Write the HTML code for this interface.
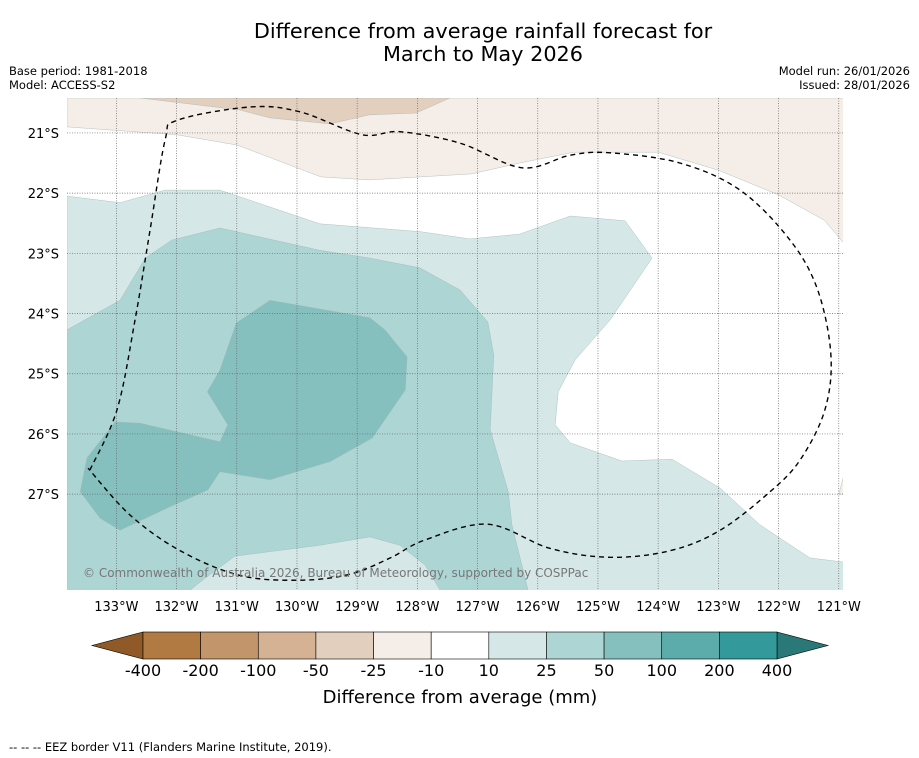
<!DOCTYPE html>
<html><head><meta charset="utf-8"><style>
body{margin:0;background:#fff;font-family:"Liberation Sans","DejaVu Sans",sans-serif}
svg{display:block}
</style></head><body>
<svg width="919" height="758" viewBox="0 0 919 758" font-family="DejaVu Sans, Liberation Sans, sans-serif">
<rect width="919" height="758" fill="#fff"/>
<text x="483" y="38" text-anchor="middle" font-size="20.8">Difference from average rainfall forecast for</text>
<text x="483" y="61" text-anchor="middle" font-size="20.8">March to May 2026</text>
<text x="9" y="75" font-size="11.5">Base period: 1981-2018</text>
<text x="9" y="89" font-size="11.5">Model: ACCESS-S2</text>
<text x="910" y="75" font-size="11.5" text-anchor="end">Model run: 26/01/2026</text>
<text x="910" y="89" font-size="11.5" text-anchor="end">Issued: 28/01/2026</text>
<g id="map"></g>
<g id="cbar"></g>
<text x="460" y="703" text-anchor="middle" font-size="18">Difference from average (mm)</text>
<text x="9" y="751" font-size="11.5">--  --  -- EEZ border V11 (Flanders Marine Institute, 2019).</text>
</svg>
<script>
const lonTicks=[133,132,131,130,129,128,127,126,125,124,123,122,121];
const latTicks=[21,22,23,24,25,26,27];
const cbLevels=["-400","-200","-100","-50","-25","-10","10","25","50","100","200","400"];
const cbColors=["#b07a42","#c2956b","#d4b293","#e3cfbe","#f5ede7","#ffffff","#d5e8e7","#acd5d4","#85c0bf","#5bacab","#33999a"];
const tanLight=[[133.82,20.42],[133.82,20.9],[132,21.03],[131,21.2],[129.6,21.73],[128.8,21.78],[127.1,21.68],[126.3,21.5],[125.4,21.32],[124,21.32],[123,21.62],[122,22.03],[121.24,22.45],[120.92,22.83],[120.92,20.42]];
const tanDark=[[132.6,20.42],[130.95,20.62],[130.45,20.75],[129.45,20.85],[128.8,20.7],[128.02,20.67],[127.46,20.42]];
const tanSmall=[[121,27.0],[120.92,26.7],[120.92,27.0]];
const teal1=[[133.82,22.05],[132.94,22.16],[132.19,21.95],[131.28,21.95],[129.62,22.51],[127.96,22.64],[127.13,22.76],[126.3,22.68],[125.46,22.38],[124.55,22.46],[124.1,23.08],[124.8,24.11],[125.38,24.77],[125.66,25.3],[125.71,25.85],[125.46,26.15],[124.6,26.45],[123.77,26.42],[122.97,26.9],[122.31,27.51],[121.48,28.06],[120.92,28.13],[120.92,28.6],[133.82,28.6]];
const teal2=[[133.82,24.27],[132.94,23.78],[132.52,23.08],[132.08,22.78],[131.28,22.58],[129.62,22.95],[128.79,23.08],[127.96,23.24],[127.29,23.61],[126.83,24.14],[126.73,24.69],[126.79,25.93],[126.49,26.96],[126.43,27.51],[126.16,28.6],[127.62,28.6],[127.87,28.18],[128.29,27.85],[128.79,27.71],[129.62,27.85],[131.03,28.03],[131.53,28.4],[131.78,28.6],[133.82,28.6]];
const teal3=[[130.45,23.78],[128.79,24.07],[128.54,24.27],[128.17,24.72],[128.2,25.27],[128.75,26.07],[129.45,26.46],[130.45,26.76],[131.28,26.63],[131.48,26.93],[132.11,27.21],[132.94,27.6],[133.27,27.4],[133.6,26.96],[133.49,26.4],[133.02,25.8],[132.61,25.82],[131.28,26.13],[131.15,25.85],[131.49,25.3],[131.28,24.94],[131.01,24.16]];
const eez=[[133.44,26.6],[132.99,25.6],[132.69,24.11],[132.44,22.61],[132.19,21.12],[131.99,20.79],[130.78,20.57],[129.95,20.65],[128.92,21.03],[128.29,20.98],[127.29,21.17],[126.26,21.58],[125.46,21.37],[124.8,21.33],[123.64,21.5],[122.64,21.95],[121.81,22.78],[121.35,23.61],[121.13,24.69],[121.23,25.6],[121.64,26.43],[122.14,26.96],[122.97,27.6],[123.8,27.94],[124.8,28.05],[125.8,27.9],[126.83,27.5],[127.87,27.76],[128.45,28.06],[129.12,28.33],[129.95,28.43],[130.95,28.35],[131.94,27.94],[132.77,27.35],[133.47,26.57]];
const NS='http://www.w3.org/2000/svg';
const X0=67,X1=843,Y0=98,Y1=590,LON0=133.82,LAT0=20.42,PPD=60.2;
const sx=lon=>X0+(LON0-lon)*PPD;
const sy=lat=>Y0+(lat-LAT0)*PPD;
const map=document.getElementById('map');
function mk(t,a,p){const e=document.createElementNS(NS,t);for(const k in a)e.setAttribute(k,a[k]);(p||map).appendChild(e);return e;}
const defs=mk('defs',{});const cp=mk('clipPath',{id:'clip'},defs);mk('rect',{x:X0,y:Y0,width:X1-X0,height:Y1-Y0},cp);
const g=mk('g',{'clip-path':'url(#clip)'});
mk('rect',{x:X0,y:Y0,width:X1-X0,height:Y1-Y0,fill:'#fff'},g);
function poly(pts,fill,name){const e=mk('polygon',{points:pts.map(p=>sx(p[0]).toFixed(1)+','+sy(p[1]).toFixed(1)).join(' '),fill:fill,stroke:'#9fb8b8','stroke-width':0.4},g);

}
poly(tanLight,'#f5ede7','contour-minus10');
poly(tanDark,'#e3cfbe','contour-minus25');
poly(tanSmall,'#f5ede7','contour-minus10-small');
poly(teal1,'#d5e8e7','contour-10-25');
poly(teal2,'#acd5d4','contour-25-50');
poly(teal3,'#85c0bf','contour-50-100');
lonTicks.forEach(l=>{const x=sx(l);const ln=mk('line',{x1:x,x2:x,y1:Y0,y2:Y1,stroke:'#666','stroke-width':0.7,'stroke-dasharray':'1,1.5'},g);


const t=mk('text',{x:x,y:611,'text-anchor':'middle','font-size':13});t.textContent=l+'°W';

});
latTicks.forEach(l=>{const y=sy(l);const ln=mk('line',{x1:X0,x2:X1,y1:y,y2:y,stroke:'#666','stroke-width':0.7,'stroke-dasharray':'1,1.5'},g);


const t=mk('text',{x:59,y:y+5,'text-anchor':'end','font-size':13});t.textContent=l+'°S';

});
// smooth EEZ path (Catmull-Rom)
const P=eez.map(p=>[sx(p[0]),sy(p[1])]);
let d='M'+P[0][0].toFixed(1)+','+P[0][1].toFixed(1);
for(let i=0;i<P.length-1;i++){const p0=P[Math.max(i-1,0)],p1=P[i],p2=P[i+1],p3=P[Math.min(i+2,P.length-1)];
const c1=[p1[0]+(p2[0]-p0[0])/6,p1[1]+(p2[1]-p0[1])/6],c2=[p2[0]-(p3[0]-p1[0])/6,p2[1]-(p3[1]-p1[1])/6];
d+=` C${c1[0].toFixed(1)},${c1[1].toFixed(1)} ${c2[0].toFixed(1)},${c2[1].toFixed(1)} ${p2[0].toFixed(1)},${p2[1].toFixed(1)}`;}
const ez=mk('path',{d:d,fill:'none',stroke:'#000','stroke-width':1.4,'stroke-dasharray':'5,4','stroke-linejoin':'round'},g);


const cr=mk('text',{x:83,y:577,'font-size':12,fill:'#777'},g);cr.textContent='© Commonwealth of Australia 2026, Bureau of Meteorology, supported by COSPPac';


const cb=document.getElementById('cbar');
const CX0=143,CX1=777,CY=632,CH=27,bw=(CX1-CX0)/cbColors.length;
const lt=mk('polygon',{points:`${CX0},${CY} 92,${CY+CH/2} ${CX0},${CY+CH}`,fill:'#8f5a28',stroke:'#000','stroke-width':0.6},cb);


const rt=mk('polygon',{points:`${CX1},${CY} 828,${CY+CH/2} ${CX1},${CY+CH}`,fill:'#2a7878',stroke:'#000','stroke-width':0.6},cb);


cbColors.forEach((c,i)=>{const r=mk('rect',{x:CX0+i*bw,y:CY,width:bw,height:CH,fill:c,stroke:'#000','stroke-width':0.6},cb);

});
cbLevels.forEach((s,i)=>{const t=mk('text',{x:CX0+i*bw,y:676,'text-anchor':'middle','font-size':16},cb);t.textContent=s;

});
</script>
</body></html>
